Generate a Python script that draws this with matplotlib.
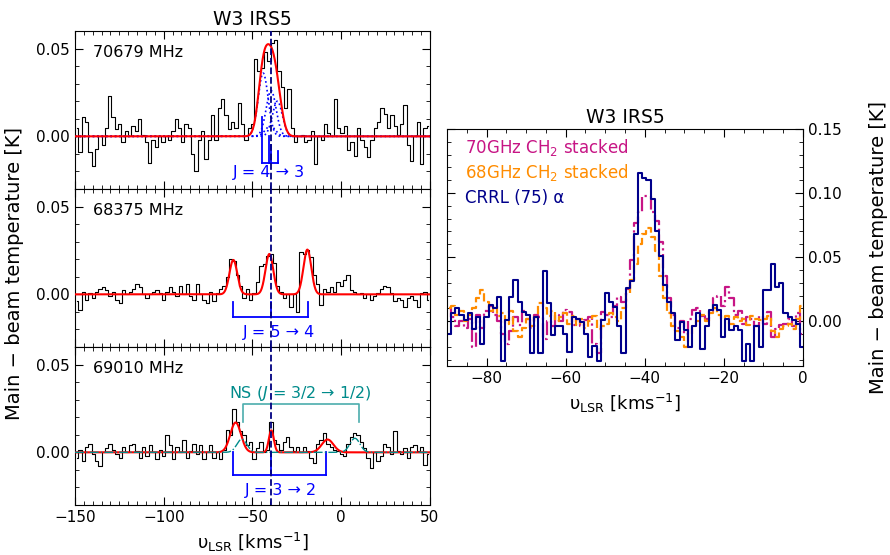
import numpy as np
import matplotlib
matplotlib.use("Agg")
import matplotlib.pyplot as plt
from matplotlib.ticker import MultipleLocator

# ---- left column: CH2 spectra (T_mb in K), channels across -150..50 km/s
freq_labels = ["70679 MHz", "68375 MHz", "69010 MHz"]

t_70679 = [0.005, -0.009, 0.011, 0.008, -0.009, -0.017, -0.007, 0.000, -0.005, 0.005,
           0.023, 0.011, 0.004, 0.007, -0.003, 0.003, 0.000, 0.006, 0.003, 0.010,
           0.001, -0.003, -0.015, -0.002, -0.006, 0.000, -0.003, 0.000, -0.002, 0.003,
           0.010, 0.005, -0.003, 0.007, 0.005, -0.010, -0.020, -0.002, 0.003, -0.013,
           -0.002, 0.012, -0.002, 0.016, 0.021, 0.012, 0.004, 0.008, 0.005, 0.019,
           0.007, -0.002, 0.005, 0.007, 0.044, 0.037, 0.039, 0.048, 0.043, 0.053,
           0.055, 0.037, 0.028, 0.016, 0.027, 0.005, -0.003, 0.000, 0.001, -0.003,
           -0.002, 0.003, -0.016, 0.000, -0.002, 0.007, 0.002, 0.000, 0.021, 0.005,
           0.002, 0.006, -0.008, -0.003, -0.011, 0.005, -0.002, -0.006, -0.012, -0.002,
           0.005, 0.008, 0.016, 0.013, 0.005, 0.012, 0.006, 0.001, 0.007, 0.018,
           -0.005, -0.014, 0.000, 0.008, -0.016, 0.005, 0.006]

t_68375 = [-0.004, -0.009, 0.0015, -0.003, 0.0005, -0.002, 0.0015, 0.003, 0.004, 0.0025,
           -0.001, 0.0015, -0.003, -0.005, 0.0025, 0.000, 0.0015, 0.003, 0.006, 0.004,
           0.000, -0.002, 0.000, 0.0015, 0.0025, 0.0005, -0.003, 0.0015, 0.004, 0.0015,
           -0.001, 0.005, 0.000, 0.006, -0.001, -0.003, 0.006, 0.000, -0.003, -0.005,
           0.0015, -0.004, 0.0005, 0.003, 0.005, 0.010, 0.020, 0.019, 0.011, 0.005,
           -0.002, 0.003, -0.003, 0.0005, 0.007, 0.016, 0.017, 0.022, 0.023, 0.018,
           0.005, 0.0015, -0.002, 0.000, -0.007, 0.000, -0.010, 0.024, 0.023, 0.025,
           0.021, 0.011, 0.006, -0.006, 0.003, 0.0015, 0.004, 0.0015, 0.007, 0.005,
           0.008, 0.011, 0.0025, 0.0015, 0.000, 0.0005, -0.002, 0.000, -0.003, -0.001,
           0.0005, 0.003, 0.005, 0.004, 0.0005, -0.004, -0.002, -0.003, -0.007, -0.002,
           -0.001, -0.003, -0.007, 0.0005, 0.0015, -0.003]

t_69010 = [-0.003, 0.0015, -0.005, 0.003, 0.005, -0.001, -0.005, -0.008, 0.000, 0.0025,
           0.005, 0.0015, -0.001, -0.003, 0.003, 0.000, 0.004, 0.005, 0.0005, -0.003,
           0.003, -0.002, 0.004, 0.000, -0.004, 0.0015, -0.002, 0.010, 0.004, -0.004,
           0.003, 0.000, 0.007, -0.003, 0.0005, 0.005, -0.001, 0.004, -0.004, 0.000,
           0.004, -0.003, 0.000, -0.004, 0.0015, 0.013, 0.010, 0.0245, 0.017, 0.012,
           0.010, 0.004, 0.006, -0.004, 0.0025, 0.006, 0.000, 0.0015, 0.017, 0.007,
           0.005, 0.0015, 0.006, 0.009, 0.003, 0.0005, 0.003, 0.000, 0.003, 0.0005,
           -0.003, -0.006, 0.005, 0.007, 0.011, 0.005, 0.003, 0.0015, 0.0005, -0.001,
           -0.002, 0.005, 0.009, 0.011, 0.010, 0.006, 0.0025, -0.003, -0.009, 0.000,
           -0.005, -0.002, 0.005, 0.003, -0.001, 0.012, 0.0005, -0.001, 0.0025, -0.003,
           0.003, 0.004, 0.0005, 0.003, -0.007, -0.001]

# gaussian fit components: (centre km/s, amplitude K, sigma km/s)
fit_70679 = [(-44.0, 0.036, 2.8), (-39.5, 0.026, 2.8), (-36.0, 0.020, 2.8), (-40.0, 0.006, 2.8)]
fit_68375 = [(-60.8, 0.0196, 2.2), (-40.5, 0.023, 2.2), (-19.1, 0.0255, 2.2)]
fit_69010 = [(-59.5, 0.017, 3.0), (-39.4, 0.0125, 1.4), (-7.7, 0.0073, 3.3)]
ns_69010 = [(-56.0, 0.0075, 2.8), (7.7, 0.008, 2.8)]

# hyperfine markers: (velocity, top of tick)
hf_70679 = [(-44.5, 0.011), (-40.5, 0.000), (-39.5, -0.005), (-35.6, -0.0085)]
hf_68375 = [(-61.2, -0.0045), (-39.5, -0.0045), (-18.9, -0.0045)]
hf_69010 = [(-60.8, 0.0), (-39.5, 0.0), (-8.6, 0.0)]
hf_labels = ["J = 4 → 3", "J = 5 → 4", "J = 3 → 2"]
hf_label_x = [-40.5, -35.0, -34.0]
ns_bracket = [-55.2, 9.8]
v_sys = -39.5

# ---- right panel: stacked spectra vs CRRL, channels from -90 km/s
dv_right = 1.05
t_crrl = [-0.010, 0.006, 0.010, 0.005, 0.001, 0.006, -0.006, 0.003, -0.018, 0.003,
          0.013, 0.010, 0.019, -0.031, 0.001, 0.019, 0.032, 0.015, 0.007, 0.005,
          -0.025, 0.003, -0.025, 0.039, 0.014, -0.011, -0.004, -0.004, -0.010, -0.024,
          0.003, 0.002, -0.0005, -0.010, -0.028, -0.019, -0.031, 0.001, 0.022, 0.015,
          0.011, -0.004, -0.025, 0.026, 0.031, 0.068, 0.116, 0.112, 0.110, 0.095,
          0.070, 0.051, 0.028, 0.015, 0.006, -0.015, -0.0005, -0.007, -0.020, -0.004,
          0.006, -0.022, -0.004, 0.009, 0.013, 0.009, -0.012, 0.002, -0.007, -0.004,
          -0.007, -0.031, -0.018, -0.031, -0.004, -0.020, 0.024, 0.024, 0.045, 0.027,
          0.030, 0.006, 0.003, 0.001, -0.002, -0.020]
t_70ghz = [0.010, 0.003, -0.004, 0.000, -0.005, 0.002, -0.020, 0.005, -0.005, 0.008,
           0.012, 0.005, 0.000, -0.010, -0.018, -0.008, 0.003, -0.003, 0.008, 0.002,
           -0.005, 0.005, 0.003, -0.014, 0.000, -0.004, 0.005, 0.000, 0.009, 0.007,
           -0.003, 0.002, -0.004, 0.001, 0.003, -0.018, -0.025, 0.007, 0.005, 0.003,
           0.012, 0.019, 0.015, 0.025, 0.048, 0.077, 0.085, 0.098, 0.098, 0.085,
           0.078, 0.062, 0.035, 0.018, 0.005, -0.005, 0.000, -0.010, 0.002, 0.009,
           0.010, 0.004, 0.002, 0.008, 0.018, 0.020, 0.012, 0.027, 0.018, 0.005,
           0.008, -0.002, 0.003, 0.002, -0.004, 0.004, -0.002, 0.007, -0.012, -0.006,
           -0.003, -0.002, 0.002, -0.004, 0.006, -0.010]
t_68ghz = [0.010, 0.012, 0.005, 0.008, 0.000, 0.005, 0.010, 0.018, 0.024, 0.015,
           0.008, 0.012, 0.004, 0.006, -0.002, 0.008, -0.008, -0.012, -0.005, 0.002,
           -0.004, 0.003, 0.014, 0.010, 0.004, 0.008, 0.000, 0.003, 0.006, -0.002,
           0.004, -0.003, 0.002, -0.005, 0.000, 0.004, -0.006, -0.004, -0.002, 0.006,
           0.003, 0.000, 0.010, 0.022, 0.032, 0.045, 0.060, 0.068, 0.073, 0.066,
           0.055, 0.035, 0.018, 0.006, -0.004, -0.008, -0.012, -0.020, -0.010, -0.004,
           0.000, 0.005, 0.000, 0.006, 0.010, 0.005, 0.002, 0.004, -0.002, 0.003,
           0.000, 0.002, -0.003, 0.004, 0.002, 0.001, 0.002, 0.004, -0.008, -0.012,
           -0.006, -0.004, -0.002, -0.006, 0.002, 0.012]

right_labels = ["70GHz CH$_2$ stacked", "68GHz CH$_2$ stacked", "CRRL (75) α"]
c_mag, c_org, c_navy = "#c71585", "darkorange", "#00008b"
c_ns = "darkcyan"
xlab = r"υ$_{\rm LSR}$ [kms$^{-1}$]"


def gauss_sum(v, comps):
    out = np.zeros_like(v)
    for c, a, s in comps:
        out += a * np.exp(-0.5 * ((v - c) / s) ** 2)
    return out


def chan(start, stop, vals):
    n = len(vals)
    dv = (stop - start) / n
    return start + dv * (np.arange(n) + 0.5)


def style(ax):
    ax.tick_params(which="both", direction="in", top=True, right=True, labelsize=11)
    ax.tick_params(which="major", length=6)
    ax.tick_params(which="minor", length=3)


fig = plt.figure(figsize=(8.9, 5.55), dpi=100)

lx, lw = 75 / 890, 355 / 890
tops = [31, 189, 347]
ph = 158 / 555
vfine = np.linspace(-150, 50, 2001)
spectra = [t_70679, t_68375, t_69010]
fits = [fit_70679, fit_68375, fit_69010]
hfs = [hf_70679, hf_68375, hf_69010]
axes = []
for i in range(3):
    ax = fig.add_axes([lx, 1 - tops[i] / 555 - ph, lw, ph])
    axes.append(ax)
    t = spectra[i]
    ax.step(chan(-150, 50, t), t, where="mid", color="k", lw=0.8)
    if i == 0:
        for comp in fits[i]:
            ax.plot(vfine, gauss_sum(vfine, [comp]), ":", color="blue", lw=1.2)
    if i == 2:
        ax.plot(vfine, gauss_sum(vfine, ns_69010), "-.", color=c_ns, lw=1.0, zorder=4)
    ax.plot(vfine, gauss_sum(vfine, fits[i]), color="red", lw=1.5, zorder=3)
    ax.axvline(v_sys, color="navy", ls="--", lw=1.3, zorder=5)

    # hyperfine bracket
    hv = [h[0] for h in hfs[i]]
    ybar = -0.015 if i == 0 else -0.013
    for v, top in hfs[i]:
        ax.plot([v, v], [top, ybar], color="blue", lw=1.3)
    ax.plot([min(hv), max(hv)], [ybar, ybar], color="blue", lw=1.3)
    ax.text(hf_label_x[i], -0.0205 if i == 0 else -0.0215, hf_labels[i], color="blue",
            fontsize=11.5, ha="center", va="center")

    ax.text(-140, 0.048, freq_labels[i], fontsize=11.5, va="center")
    ax.set_xlim(-150, 50)
    ax.set_ylim(-0.03, 0.06)
    ax.xaxis.set_major_locator(MultipleLocator(50))
    ax.xaxis.set_minor_locator(MultipleLocator(5))
    ax.yaxis.set_major_locator(MultipleLocator(0.05))
    ax.yaxis.set_minor_locator(MultipleLocator(0.01))
    ax.yaxis.set_major_formatter(matplotlib.ticker.FormatStrFormatter("%.2f"))
    style(ax)
    if i < 2:
        ax.tick_params(labelbottom=False)

# NS bracket in bottom panel
ax = axes[2]
ax.plot([ns_bracket[0], ns_bracket[0], ns_bracket[1], ns_bracket[1]],
        [0.017, 0.0275, 0.0275, 0.017], color=c_ns, lw=1.2, alpha=0.7)
ax.text(np.mean(ns_bracket) - 0.5, 0.0335, r"NS ($J$ = 3/2 → 1/2)", color=c_ns,
        fontsize=11.5, ha="center", va="center")
ax.set_xlabel(xlab, fontsize=13)
axes[0].set_title("W3 IRS5", fontsize=13.5, pad=4)
fig.text(15 / 890, 1 - 273 / 555, "Main − beam temperature [K]", rotation=90,
         fontsize=14, ha="center", va="center")

# ---- right panel
axr = fig.add_axes([447 / 890, 1 - 366 / 555, 356 / 890, 237 / 555])
axr.step(chan(-90, -90 + dv_right * len(t_70ghz), t_70ghz), t_70ghz, where="mid",
         color=c_mag, ls="-.", lw=1.6)
axr.step(chan(-90, -90 + dv_right * len(t_68ghz), t_68ghz), t_68ghz, where="mid",
         color=c_org, ls="--", lw=1.6)
axr.step(chan(-90, -90 + dv_right * len(t_crrl), t_crrl), t_crrl, where="mid",
         color=c_navy, lw=1.5)
for k, (lab, col) in enumerate(zip(right_labels, [c_mag, c_org, c_navy])):
    axr.text(0.05, 0.92 - 0.105 * k, lab, color=col, fontsize=12,
             transform=axr.transAxes, va="center")
axr.set_xlim(-90, 0)
axr.set_ylim(-0.035, 0.15)
axr.xaxis.set_major_locator(MultipleLocator(20))
axr.xaxis.set_minor_locator(MultipleLocator(5))
axr.yaxis.set_major_locator(MultipleLocator(0.05))
axr.yaxis.set_minor_locator(MultipleLocator(0.01))
axr.yaxis.set_major_formatter(matplotlib.ticker.FormatStrFormatter("%.2f"))
style(axr)
axr.tick_params(labelleft=False, labelright=True)
axr.yaxis.set_label_position("right")
axr.set_ylabel("Main − beam temperature [K]", fontsize=14, labelpad=20)
axr.set_xlabel(xlab, fontsize=13)
axr.set_title("W3 IRS5", fontsize=13.5, pad=4)

fig.savefig("out.png", dpi=100)
